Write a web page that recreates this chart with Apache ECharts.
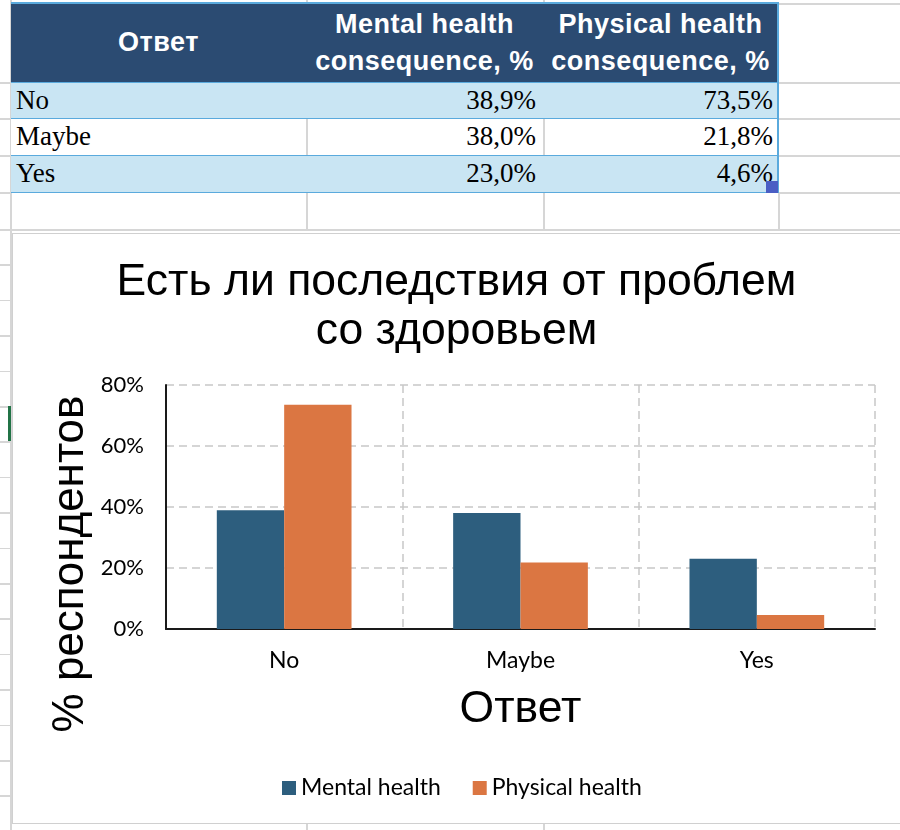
<!DOCTYPE html>
<html>
<head>
<meta charset="utf-8">
<script src="https://cdn.jsdelivr.net/npm/echarts@6/dist/echarts.min.js"></script>
<style>
  html, body { margin: 0; padding: 0; background: #fff; }
  #page { position: relative; width: 900px; height: 830px; overflow: hidden; background: #fff; }
  .ln { position: absolute; background: #d6d6d6; }
  .bl { position: absolute; background: #5aaadd; }
  .cell { position: absolute; box-sizing: border-box; white-space: nowrap; }
  .hdr { background: #2b4b72; color: #fff; font-family: "Liberation Sans", Arial, sans-serif; font-weight: bold;
         font-size: 27px; line-height: 37px; letter-spacing: 0.5px; display: flex; align-items: center; justify-content: center; text-align: center; }
  .dat { font-family: "Liberation Serif", "Times New Roman", serif; font-size: 27px; color: #000; display: flex; align-items: center; }
  #chartBox { position: absolute; left: 12px; top: 233px; width: 900px; height: 589px; border-left: 1px solid #d0d0d0; border-top: 1px solid #d0d0d0; border-bottom: 1px solid #d0d0d0; background: #fff; }
  #chart { position: absolute; left: 0; top: 0; width: 887px; height: 589px; }
</style>
</head>
<body>
<div id="page"></div>
<script>
// ---- data ----
const categories = ['No', 'Maybe', 'Yes'];
const mentalHealth = [38.9, 38.0, 23.0];
const physicalHealth = [73.5, 21.8, 4.6];
const seriesNames = ['Mental health', 'Physical health'];
const tableHeaders = ['Ответ', 'Mental health<br>consequence, %', 'Physical health<br>consequence, %'];
const chartTitle = 'Есть ли последствия от проблем\nсо здоровьем';
const xAxisTitle = 'Ответ';
const yAxisTitle = '% респондентов';
const yTickValues = [0, 20, 40, 60, 80];

// ---- spreadsheet background (table cells) ----
const page = document.getElementById('page');
function add(cls, l, t, w, h, html, extra) {
  const d = document.createElement('div');
  d.className = cls;
  d.style.left = l + 'px'; d.style.top = t + 'px';
  d.style.width = w + 'px'; d.style.height = h + 'px';
  if (html !== undefined) d.innerHTML = html;
  if (extra) Object.assign(d.style, extra);
  page.appendChild(d);
  return d;
}
const rowY = [82, 118, 155, 192];

// left sheet border and row header strip lines
add('ln', 10, 0, 1.5, 830);
for (let y = 229; y < 830; y += 35.4) add('ln', 0, y, 10, 1.5);
[82, 118, 155, 192].forEach(y => add('ln', 0, y, 10, 1.5));
add('', 8, 406, 3, 35, undefined, { position: 'absolute', background: '#217346' });

// gray gridlines right of table
[3, 82, 118, 155, 192].forEach(y => add('ln', 778, y, 122, 1.5));
add('ln', 306, 0, 1.5, 3);
add('ln', 543, 0, 1.5, 3);
// empty row below table
add('ln', 11, 229, 889, 1.5);
[306, 543, 778].forEach(x => add('ln', x, 192, 1.5, 37));
// below chart
add('ln', 306, 822, 1.5, 8);
add('ln', 543, 822, 1.5, 8);

// header row
add('cell hdr', 11, 3, 295, 79, tableHeaders[0]);
add('cell hdr', 306, 3, 237, 79, tableHeaders[1]);
add('cell hdr', 543, 3, 235, 79, tableHeaders[2]);
// data rows
const fmt = v => v.toFixed(1).replace('.', ',') + '%';
categories.forEach((c, i) => {
  const top = rowY[i], h = rowY[i + 1] - rowY[i];
  const bg = (i % 2 === 0) ? '#c9e5f3' : '#ffffff';
  add('cell', 11, top, 767, h, '', { background: bg });
  if (i % 2 === 1) { add('ln', 306, top, 1.5, h); add('ln', 543, top, 1.5, h); }
  add('cell dat', 11, top, 295, h, c, { paddingLeft: '5px' });
  add('cell dat', 306, top, 237, h, fmt(mentalHealth[i]), { justifyContent: 'flex-end', paddingRight: '7px' });
  add('cell dat', 543, top, 235, h, fmt(physicalHealth[i]), { justifyContent: 'flex-end', paddingRight: '5px' });
});
// blue borders
add('bl', 11, 2, 768, 1.5);
rowY.forEach(y => add('bl', 11, y - 0.5, 768, 1.8));
add('bl', 777, 2, 1.8, 191);
// selection handle
add('', 766, 181, 12, 12, undefined, { position: 'absolute', background: '#4a5ec4' });

// chart box
const box = document.createElement('div'); box.id = 'chartBox';
const cdiv = document.createElement('div'); cdiv.id = 'chart';
box.appendChild(cdiv); page.appendChild(box);

// ---- chart ----
const chart = echarts.init(cdiv, null, { renderer: 'canvas' });
const labelFont = 'Lato';
const titleFont = '"Liberation Sans", Arial, sans-serif';
chart.setOption({
  animation: false,
  backgroundColor: '#fff',
  title: {
    text: chartTitle,
    left: 'center',
    top: 19,
    textStyle: { fontFamily: titleFont, fontSize: 44.5, fontWeight: 'normal', color: '#000', lineHeight: 49 }
  },
  legend: {
    data: seriesNames,
    left: 264,
    top: 537,
    icon: 'rect',
    itemWidth: 14,
    itemHeight: 14,
    itemGap: 32,
    textStyle: { fontFamily: labelFont, fontSize: 23, color: '#000', lineHeight: 24 }
  },
  grid: { left: 153, top: 151, width: 709, height: 244, containLabel: false },
  xAxis: {
    type: 'category',
    data: categories,
    name: xAxisTitle,
    nameLocation: 'middle',
    nameGap: 59,
    nameTextStyle: { fontFamily: titleFont, fontSize: 44.5, color: '#000', lineHeight: 44 },
    axisLine: { lineStyle: { color: '#1a1a1a', width: 2 } },
    axisTick: { show: false },
    axisLabel: { margin: 20, fontFamily: labelFont, fontSize: 23, color: '#000', lineHeight: 24 },
    splitLine: { show: true, lineStyle: { color: '#c8c8c8', width: 1.5, type: [8, 5] } }
  },
  yAxis: {
    type: 'value',
    min: yTickValues[0],
    max: yTickValues[yTickValues.length - 1],
    interval: yTickValues[1] - yTickValues[0],
    axisLine: { show: true, lineStyle: { color: '#1a1a1a', width: 2 } },
    axisTick: { show: false },
    axisLabel: { margin: 22, fontFamily: labelFont, fontSize: 22, color: '#000', formatter: '{value}%' },
    splitLine: { show: true, lineStyle: { color: '#c8c8c8', width: 1.5, type: [8, 5] } }
  },
  graphic: [{
    type: 'text',
    x: 58,
    y: 330,
    rotation: Math.PI / 2,
    style: {
      text: yAxisTitle,
      fontFamily: titleFont,
      fontSize: 44,
      fill: '#000',
      align: 'center',
      verticalAlign: 'middle'
    }
  }],
  series: [
    { name: seriesNames[0], type: 'bar', data: mentalHealth, barGap: '0%', barCategoryGap: '43%',
      itemStyle: { color: '#2d5e7e' } },
    { name: seriesNames[1], type: 'bar', data: physicalHealth, barGap: '0%', barCategoryGap: '43%',
      itemStyle: { color: '#db7642' } }
  ]
});
</script>
</body>
</html>
